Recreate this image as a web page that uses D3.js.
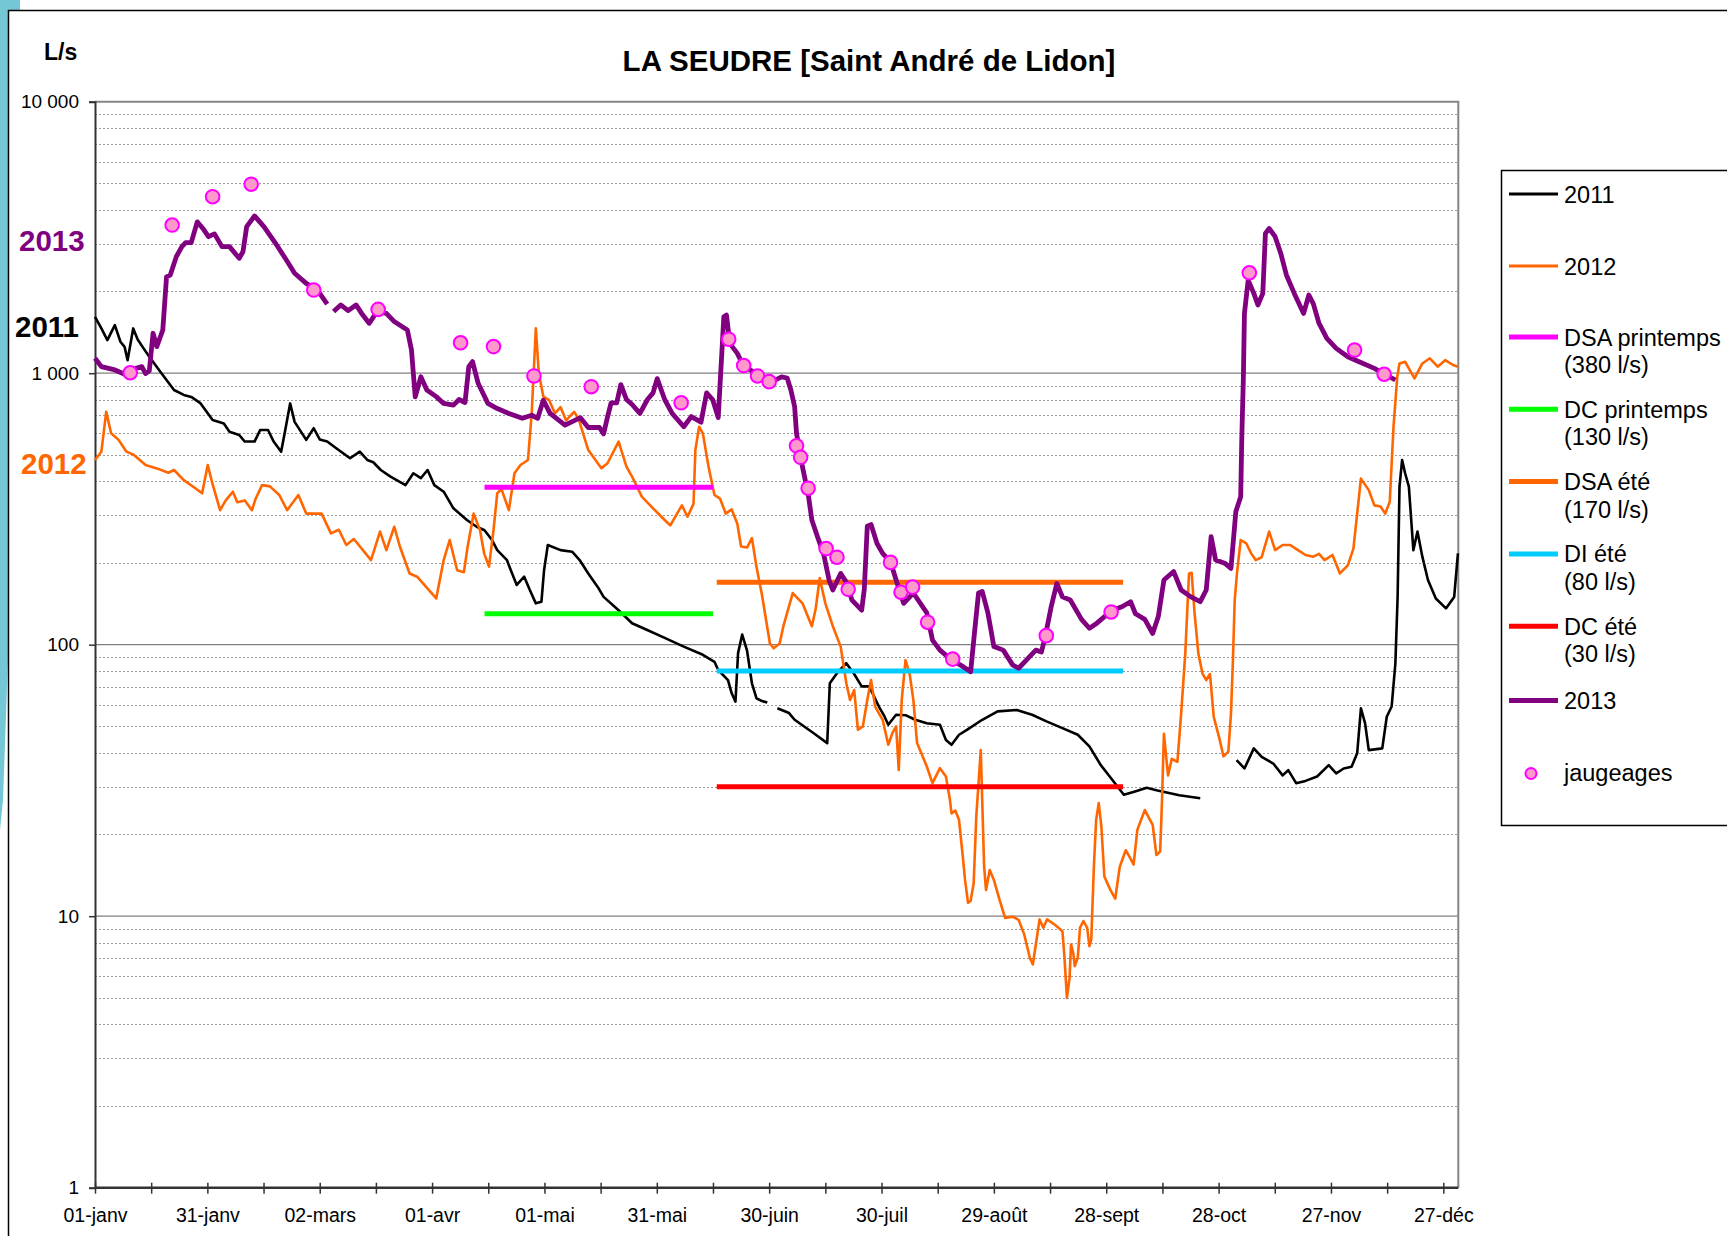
<!DOCTYPE html>
<html>
<head>
<meta charset="utf-8">
<script src="https://cdn.jsdelivr.net/npm/d3@7"></script>
<style>
  body { margin: 0; background: #fff; }
  svg { display: block; font-family: "Liberation Sans", Arial, sans-serif; }
</style>
</head>
<body>
<svg id="chart" width="1727" height="1236"></svg>
<script>
// day of year (0 = 01-janv), flow in L/s ; null = gap in the record
var flow2011 = [
    [0,1614],[1.7,1462],[3.3,1324],[5.3,1503],[6.8,1306],[7.9,1250],[8.7,1117],[10.2,1462],[11.4,1330],[12.7,1250],
    [14.5,1150],[17.1,1028],[19.1,944],[21.1,867],[23.7,832],[25.7,818],[28.2,774],[31.4,672],[34.4,653],[35.9,609],
    [38.5,592],[40,560],[42.6,560],[44.1,618],[46.2,618],[47.7,560],[49.7,514],[50.8,618],[52.1,774],[53.3,662],
    [56.4,568],[58.4,627],[60,570],[62,560],[64.5,528],[68.1,486],[70.7,514],[72.7,479],[74.3,470],[76.3,440],
    [78.9,416],[82.9,387],[85,428],[87,411],[88.8,440],[90.6,387],[93.1,366],[95.7,318],[99.3,288],[101.9,272],
    [104,264],[106,243],[107.4,223],[110,205],[110.5,196],[112.6,166],[114.6,178],[116.1,159],[117.7,142],[119.2,144],
    [119.9,188],[120.9,233],[124.3,223],[127.4,220],[129.4,205],[131.7,183],[134.5,161],[135.8,150],[139.8,134],[143.4,120],
    [147,114],[152.1,106],[157.2,98.4],[162.3,91.8],[165.4,86.5],[166.4,80.7],[169,74.1],[170,66.2],[171,61.7],[171.7,93.1],
    [172.8,109],[174.1,95],[175.4,72.1],[176.6,63.5],[178.1,62],[179.5,61.2],null,
    [182.2,58.3],[185.3,56],[186.8,52.9],[191.9,47.2],[195.5,43.4],[196.2,72.1],[198.1,78.5],[200.6,85.5],[202.7,78],[204.7,70.2],
    [206.7,70.2],[209.3,59.2],[210.8,54.4],[211.8,50.7],[213.9,55.2],[216.4,55],[219,52.9],[222.1,51.4],[225.6,50.7],[227.2,44.6],
    [228.7,42.8],[230.7,46.6],[232.8,48.6],[236.9,52.9],[241,56.8],[246.1,57.5],[250.2,55.2],[254.2,52.1],[258.3,49.3],[262.4,46.6],
    [265.5,42.2],[268.5,36.1],[271.6,31.8],[274.7,28],[277.7,28.8],[280.8,29.7],[283.4,29.1],[289.5,27.9],[295.1,27.2],null,
    [304.8,37.6],[306.9,35],[309.4,41.5],[311.5,38.6],[314.6,36.5],[317.1,33],[318.6,34.5],[320.7,30.9],[323.2,31.5],[326.3,32.7],
    [329.4,36],[331.4,33.6],[333.4,35],[335.5,35.5],[337,39.8],[338,58.3],[339.1,51.4],[340.1,40.9],[343.7,41.5],[344.9,54.3],
    [346.2,59.2],[347.2,85.4],[347.8,150],[348.3,382],[349,479],[349.8,428],[350.8,382],[352,223],[353.1,261],[354.4,211],
    [355.9,173],[358,148],[360.7,136],[362.9,150],[363.9,217]
];

var flow2012 = [
    [0,479],[1.7,514],[3,721],[4.3,601],[6.3,568],[8.4,514],[10.4,500],[13.5,459],[16.5,446],[19.6,430],
    [21.1,440],[23.7,404],[26.8,377],[28.6,361],[30.1,459],[31.4,390],[33.4,313],[34.9,340],[36.8,366],[38,335],
    [40,340],[41.9,313],[42.9,345],[44.6,387],[46.7,383],[49.2,356],[51.3,313],[54.3,356],[56.4,304],[60.5,304],
    [63,257],[65.1,265],[67.1,233],[69.1,245],[73.7,205],[76.1,261],[77.8,223],[79.9,272],[81.4,230],[84,183],
    [86,178],[91.1,148],[93.1,205],[94.7,243],[96.7,188],[98.5,185],[99.5,230],[101.1,304],[102.8,264],[103.9,217],
    [105.2,194],[106.4,264],[107.4,361],[108.5,375],[110.5,313],[112,428],[113.6,459],[115.6,479],[116.6,711],[117.7,1462],
    [118.5,1000],[119.7,820],[121.2,798],[122.8,711],[124.3,750],[125.8,670],[127.9,721],[129.1,680],[131.7,521],[135.2,447],
    [136.8,465],[139.8,560],[141.9,453],[143.4,416],[146,351],[149,318],[152.1,288],[153.6,275],[156.7,326],[158.2,296],
    [159.8,330],[160.3,521],[161.3,635],[162.3,600],[163.8,453],[165.4,356],[166.9,345],[168.4,304],[170,315],[171.5,279],
    [172.5,230],[174.1,228],[175.4,247],[176.6,194],[178.1,152],[180.2,101],[181.2,97],[182.8,101],[183.8,117],[186.3,155],
    [188.9,142],[191.4,117],[192.4,135],[193.5,176],[195,142],[197,117],[199.1,98.4],[200.6,72.1],[201.6,62.6],[202.7,68.1],
    [203.7,48.6],[205,49.9],[206.2,62.6],[207.2,74.1],[208.3,59.2],[210.3,52.9],[211.8,42.8],[212.9,47.2],[213.9,50],[214.6,34.6],
    [215.4,62.6],[216.4,87.7],[217.5,78.3],[218.5,62.6],[219.5,43.4],[222.1,35.6],[223.6,30.9],[225.6,35.1],[227.2,32.7],[228.2,27.2],
    [228.7,23.9],[229.7,24.5],[230.7,22.6],[231.6,17.1],[232.3,13.6],[233.1,11.2],[233.8,11.4],[234.6,13.2],[235.3,23.3],[236.5,40.9],
    [237.4,15.2],[237.9,12.5],[238.9,14.8],[240,13.6],[241.5,11.5],[243,9.86],[245,9.96],[246.6,9.7],[248.1,8.57],[249.6,7.03],
    [250.4,6.64],[251.2,7.87],[252.2,9.73],[253.2,9.07],[254.2,9.73],[256.3,9.3],[258.3,8.81],[258.8,7.22],[259.5,5.01],[260.2,5.9],
    [260.6,7.87],[261.2,7.3],[261.6,6.55],[262.4,7.03],[263,9.07],[263.9,9.6],[264.9,9.07],[265.5,7.76],[266,8.2],[266.7,15.2],
    [267.3,22.6],[268,26.1],[268.7,21.4],[269.5,14],[271.1,12.5],[272.4,11.6],[273.6,15.2],[275.2,17.5],[276.7,16.1],[277.3,15.5],
    [278.3,20.8],[280.3,24.6],[282.4,21.7],[283.4,16.8],[284.4,17.3],[284.9,27],[285.4,47],[286.5,33],[287.5,38],[289,37],
    [290,55.7],[291.1,92.7],[292.1,183],[292.8,184],[293.6,130],[294.6,92.7],[295.7,78.3],[296.7,74.1],[297.7,78],[298.7,54.3],
    [300.3,44.6],[301.3,38.8],[302.6,40.4],[303.3,55.7],[303.8,85.5],[304.3,146],[304.9,183],[305.9,243],[307.4,236],[308.7,217],
    [309.9,205],[311.5,210],[313.5,261],[315.1,223],[317.1,233],[319.1,233],[321.2,223],[323.2,214],[325.3,211],[326.8,216],
    [328.3,205],[330.4,214],[332.4,183],[334.5,196],[336,226],[337,304],[338,409],[340.1,371],[341.6,326],[343.2,323],
    [344.5,304],[345.7,336],[346.7,635],[347.7,970],[348.3,1086],[349.8,1102],[352.3,957],[354.4,1086],[356.4,1135],[358.5,1057],
    [360.5,1117],[362.6,1072],[363.9,1057]
];

var flow2013 = [
    [0,1135],[1.7,1057],[5.3,1028],[8.4,985],[10.9,1042],[12.5,1057],[13.5,997],[14.5,1020],[15.5,1403],[16.5,1253],
    [18.1,1443],[19.1,2265],[20.1,2300],[21.7,2685],[23.2,2925],[24.2,3025],[25.7,3025],[27.3,3610],[28.8,3413],[30.3,3183],
    [31.9,3260],[33.9,2925],[35.9,2925],[38.5,2650],[39.5,2800],[40.5,3466],[42.6,3795],[45.1,3466],[48.2,3009],[50.8,2650],
    [53.3,2335],[56.4,2143],[59.4,2024],[62,1798],null,
    [63.7,1686],[65.6,1784],[67.6,1700],[69.7,1784],[71.2,1660],[73.2,1527],[75.3,1686],[77.8,1660],[79.9,1549],[83.4,1443],
    [84.5,1217],[85.5,818],[87,970],[88.6,867],[91.1,820],[93.1,774],[95.7,763],[97.2,800],[98.8,780],[99.8,1057],
    [100.8,1103],[102.3,918],[104.9,774],[107.4,741],[110.5,711],[114.1,682],[116.6,700],[118.2,682],[119.7,796],[121.5,711],
    [125.5,644],[129.6,686],[131.7,631],[134.7,631],[135.8,598],[136.8,686],[137.8,778],[139.3,778],[140.4,908],[141.9,800],
    [143.4,767],[145.5,711],[147.5,800],[149,846],[150.1,955],[152.1,800],[154.1,711],[157.2,635],[159.2,692],[161.8,660],
    [163.3,846],[164.9,800],[166.4,686],[167.9,1614],[168.6,1637],[169.5,1288],[171.5,1183],[173,1072],[175.6,1014],[178.7,944],
    [181.7,944],[183.3,970],[184.8,960],[185.8,867],[186.8,753],[187.3,601],[188.9,451],[190.4,360],[191.4,288],[192.9,250],
    [194.5,217],[196,173],[197,159],[199.1,183],[200.6,170],[202.1,146],[204.7,134],[205.4,160],[206.2,273],[207.2,277],
    [208.8,236],[210.3,217],[212.4,202],[213.9,173],[215.9,142],[218.5,155],[222.1,131],[223.6,104],[225.6,95.5],[228.7,87.9],
    [231.8,83],[233.8,79.5],[234.8,110],[235.9,155],[236.9,157],[238.4,131],[240,98.4],[242.5,95.5],[245,84.3],[246.6,81.9],
    [249.1,89],[251.2,95.5],[252.7,94],[253.7,107],[255.3,138],[256.8,168],[258.3,150],[260.4,146],[263.4,124],[265.5,115],
    [267.5,120],[271.6,134],[274.2,138],[276.5,144],[277.8,130],[280.3,124],[282.4,110],[283.9,127],[285.4,173],[288,186],
    [290,159],[292.6,150],[295.1,144],[296.7,159],[298,250],[299.2,205],[301.8,199],[303.3,191],[304.6,309],[305.9,351],
    [306.2,583],[306.6,944],[306.9,1660],[307.9,2203],[309.4,1967],[310.5,1784],[311.8,1967],[312.5,3273],[313.5,3413],[315.1,3183],
    [316.6,2761],[318.1,2301],[320.2,1967],[322.7,1660],[324.1,1941],[325.3,1800],[326.8,1528],[328.9,1343],[331.4,1234],[334.5,1150],
    [337.5,1102],[341.6,1042],[344.7,985],[347.2,944]
];

var jaugeages = [
    [9.4,1004],[20.6,3513],[31.4,4467],[41.7,4966],[58.4,2024],[75.6,1718],[97.6,1294],[106.4,1253],[117.2,977],[132.5,892],
    [156.5,778],[169.2,1334],[173.2,1067],[176.9,977],[180,931],[187.3,540],[188.4,490],[190.4,377],[195.2,226],[198.1,210],
    [201.1,160],[212.4,201],[215.2,156],[218.3,163],[222.3,121],[229,88.5],[254,108],[271.3,132],[308.2,2344],[336.3,1217],
    [344.2,991]
];

// thresholds (débits de référence)
var seuilNoms = ['DSA printemps', 'DC printemps', 'DSA été', 'DI été', 'DC été'];
var seuilValeurs = [380, 130, 170, 80, 30];
var seuilDebut = [104, 104, 166, 166, 166];
var seuilFin = [165, 165, 274.5, 274.5, 274.5];
var seuilCouleurs = ['#FF00FF', '#00FF00', '#FF6600', '#00CCFF', '#FF0000'];

var dayTicks = d3.range(0, 361, 15);
var dayLabels = ['01-janv', '31-janv', '02-mars', '01-avr', '01-mai', '31-mai', '30-juin',
    '30-juil', '29-août', '28-sept', '28-oct', '27-nov', '27-déc'];
var yTicks = [1, 10, 100, 1000, 10000];

var svg = d3.select('#chart');

// slide decoration on the left
svg.append('path')
    .attr('d', 'M0,0 L20,0 L20,10 L8,10 L8,660 L3,800 L0,830 Z')
    .attr('fill', '#76C7D5');

// chart frame
svg.append('rect')
    .attr('x', 8.5).attr('y', 10.5)
    .attr('width', 1760).attr('height', 1300)
    .attr('fill', 'none').attr('stroke', '#000').attr('stroke-width', 1.5);

var x = d3.scaleLinear().domain([0, 364]).range([95, 1458.3]);
var y = d3.scaleLog().domain([1, 10000]).range([1187.7, 101.7]);

// gridlines
var minor = [];
[1, 10, 100, 1000].forEach(function (d) {
    for (var k = 2; k <= 9; k++) minor.push(d * k);
});
svg.append('g').selectAll('line')
    .data(minor).enter().append('line')
    .attr('x1', x(0)).attr('x2', x(364))
    .attr('y1', function (d) { return Math.round(y(d)) + 0.5; })
    .attr('y2', function (d) { return Math.round(y(d)) + 0.5; })
    .attr('stroke', '#9a9a9a').attr('stroke-width', 1)
    .attr('stroke-dasharray', '2,2');
svg.append('g').selectAll('line')
    .data([10, 100, 1000]).enter().append('line')
    .attr('x1', x(0)).attr('x2', x(364))
    .attr('y1', function (d) { return y(d); })
    .attr('y2', function (d) { return y(d); })
    .attr('stroke', '#808080').attr('stroke-width', 1.3);

// plot border top / right
svg.append('path')
    .attr('d', 'M' + x(0) + ',' + y(10000) + 'H' + x(364) + 'V' + y(1))
    .attr('fill', 'none').attr('stroke', '#858585').attr('stroke-width', 2);

// axes
var fr = d3.formatLocale({ decimal: ',', thousands: ' ', grouping: [3], currency: ['', ' €'] });
var yAxis = svg.append('g')
    .attr('transform', 'translate(' + x(0) + ',0)')
    .call(d3.axisLeft(y).tickValues(yTicks).tickFormat(fr.format(',d')).tickSize(6).tickPadding(10));
yAxis.select('.domain').attr('stroke', '#333').attr('stroke-width', 2);
yAxis.selectAll('.tick line').attr('stroke', '#333').attr('stroke-width', 1.5);
yAxis.selectAll('text').attr('font-size', 19).attr('fill', '#000')
    .attr('font-family', '"Liberation Sans", Arial, sans-serif');

var xAxis = svg.append('g')
    .attr('transform', 'translate(0,' + y(1) + ')')
    .call(d3.axisBottom(x).tickValues(dayTicks)
        .tickFormat(function (d) { return d % 30 === 0 ? dayLabels[d / 30] : ''; })
        .tickSize(6).tickPadding(14));
xAxis.select('.domain').attr('stroke', '#333').attr('stroke-width', 2.5)
    .attr('d', 'M' + x(0) + ',0H' + x(364));
xAxis.selectAll('.tick line').attr('stroke', '#333').attr('stroke-width', 1.5).attr('y1', -5);
xAxis.selectAll('text').attr('font-size', 19.5).attr('fill', '#000')
    .attr('font-family', '"Liberation Sans", Arial, sans-serif');

var line = d3.line()
    .defined(function (d) { return d !== null; })
    .x(function (d) { return x(d[0]); })
    .y(function (d) { return y(d[1]); });

svg.append('path').datum(flow2011).attr('d', line)
    .attr('fill', 'none').attr('stroke', '#000').attr('stroke-width', 2.6).attr('stroke-linejoin', 'round');
svg.append('path').datum(flow2012).attr('d', line)
    .attr('fill', 'none').attr('stroke', '#FF6600').attr('stroke-width', 2.6).attr('stroke-linejoin', 'round');

svg.append('g').selectAll('line')
    .data(seuilValeurs).enter().append('line')
    .attr('x1', function (d, i) { return x(seuilDebut[i]); })
    .attr('x2', function (d, i) { return x(seuilFin[i]); })
    .attr('y1', function (d) { return y(d); })
    .attr('y2', function (d) { return y(d); })
    .attr('stroke', function (d, i) { return seuilCouleurs[i]; })
    .attr('stroke-width', 5);

svg.append('path').datum(flow2013).attr('d', line)
    .attr('fill', 'none').attr('stroke', '#800080').attr('stroke-width', 4.8).attr('stroke-linejoin', 'round');

svg.append('g').selectAll('circle')
    .data(jaugeages).enter().append('circle')
    .attr('cx', function (d) { return x(d[0]); })
    .attr('cy', function (d) { return y(d[1]); })
    .attr('r', 6.8)
    .attr('fill', '#FF99CC').attr('stroke', '#FF00FF').attr('stroke-width', 2);

// titles
svg.append('text').attr('x', 869).attr('y', 70.5).attr('text-anchor', 'middle')
    .attr('font-size', 29.5).attr('font-weight', 'bold')
    .text('LA SEUDRE [Saint André de Lidon]');
svg.append('text').attr('x', 44).attr('y', 59.5)
    .attr('font-size', 23).attr('font-weight', 'bold').text('L/s');

var yearTags = [['2013', '#800080', 19, 251], ['2011', '#000', 15, 337], ['2012', '#FF6600', 21, 473.5]];
yearTags.forEach(function (t) {
    svg.append('text').attr('x', t[2]).attr('y', t[3])
        .attr('font-size', 29.5).attr('font-weight', 'bold').attr('fill', t[1]).text(t[0]);
});

// legend
var legend = svg.append('g');
legend.append('rect')
    .attr('x', 1501.5).attr('y', 170.5).attr('width', 262).attr('height', 655)
    .attr('fill', '#fff').attr('stroke', '#000').attr('stroke-width', 1.5);

var legendItems = [
    { label: ['2011'], color: '#000', w: 3, y: 194 },
    { label: ['2012'], color: '#FF6600', w: 3, y: 266 }
];
seuilNoms.forEach(function (n, i) {
    legendItems.push({ label: [n, '(' + seuilValeurs[i] + ' l/s)'], color: seuilCouleurs[i], w: 5, y: 337 + i * 72.3 });
});
legendItems.push({ label: ['2013'], color: '#800080', w: 5, y: 700.5 });

legendItems.forEach(function (it) {
    legend.append('line')
        .attr('x1', 1509).attr('x2', 1558).attr('y1', it.y).attr('y2', it.y)
        .attr('stroke', it.color).attr('stroke-width', it.w);
    it.label.forEach(function (s, j) {
        legend.append('text').attr('x', 1564).attr('y', it.y + 8.5 + j * 27.6)
            .attr('font-size', 23.5).text(s);
    });
});
legend.append('circle').attr('cx', 1531).attr('cy', 773.5).attr('r', 5.5)
    .attr('fill', '#FF99CC').attr('stroke', '#FF00FF').attr('stroke-width', 2);
legend.append('text').attr('x', 1564).attr('y', 780.5).attr('font-size', 23.5).text('jaugeages');
</script>
</body>
</html>
